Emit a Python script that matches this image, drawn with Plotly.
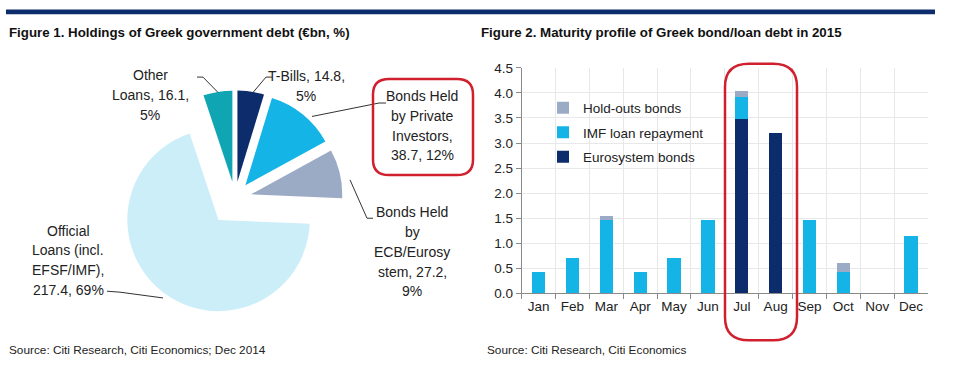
import plotly.graph_objects as go

W, H = 964, 377

# ---------------- data ----------------
pie_labels = ["T-Bills", "Bonds Held by Private Investors", "Bonds Held by ECB/Eurosystem",
              "Official Loans (incl. EFSF/IMF)", "Other Loans"]
pie_values = [14.8, 38.7, 27.2, 217.4, 16.1]
pie_colors = ["#0C2C6B", "#14B4E6", "#9BABC6", "#CBEEF8", "#0FA5B3"]
pie_pull = [0.18, 0.18, 0.18, 0.30, 0.18]

months = ["Jan", "Feb", "Mar", "Apr", "May", "Jun", "Jul", "Aug", "Sep", "Oct", "Nov", "Dec"]
eurosystem = [0, 0, 0, 0, 0, 0, 3.48, 3.19, 0, 0, 0, 0]
imf = [0.42, 0.71, 1.47, 0.42, 0.71, 1.47, 0.44, 0, 1.47, 0.42, 0, 1.15]
holdouts = [0, 0, 0.08, 0, 0, 0, 0.11, 0, 0, 0.19, 0, 0]

yticks = [0, 0.5, 1.0, 1.5, 2.0, 2.5, 3.0, 3.5, 4.0, 4.5]

# ---------------- helpers ----------------
def X(px):
    return px / W

def Y(py):
    return 1 - py / H

SANS = "Liberation Sans, Arial, sans-serif"

fig = go.Figure()

# pie
fig.add_trace(go.Pie(
    labels=pie_labels, values=pie_values, sort=False, direction="clockwise", rotation=0,
    marker=dict(colors=pie_colors, line=dict(width=0)), pull=pie_pull,
    textinfo="none", hoverinfo="label+value+percent", showlegend=False,
    domain=dict(x=[X(111.5), X(358.5)], y=[Y(322.5), Y(75.5)]),
))

# bars
fig.add_trace(go.Bar(x=months, y=eurosystem, name="Eurosystem bonds",
                     marker=dict(color="#0C2C6B", line=dict(width=0)), legendgroup="a", legendrank=3))
fig.add_trace(go.Bar(x=months, y=imf, name="IMF loan repayment",
                     marker=dict(color="#14B4E6", line=dict(width=0)), legendgroup="b", legendrank=2))
fig.add_trace(go.Bar(x=months, y=holdouts, name="Hold-outs bonds",
                     marker=dict(color="#9BABC6", line=dict(width=0)), legendgroup="c", legendrank=1))

fig.update_layout(
    width=W, height=H, autosize=False, margin=dict(l=0, r=0, t=0, b=0),
    paper_bgcolor="white", plot_bgcolor="white",
    barmode="stack", bargap=0.61,
    font=dict(family=SANS, size=14, color="#222222"),
    xaxis=dict(domain=[X(521.7), X(928)], type="category", tickson="boundaries",
               showgrid=True, gridcolor="#E8E8E8", gridwidth=1,
               showline=True, linecolor="#8A8A8A", linewidth=1,
               ticks="outside", ticklen=5, tickcolor="#8A8A8A", tickangle=0,
               tickfont=dict(size=13.5, color="#222222"), fixedrange=True),
    yaxis=dict(domain=[Y(298.3), Y(63.3)], range=[0, 4.5], tickvals=yticks, tickformat=".1f",
               showgrid=True, gridcolor="#E8E8E8", gridwidth=1, zeroline=False,
               showline=True, linecolor="#8A8A8A", linewidth=1,
               ticks="outside", ticklen=5, tickcolor="#8A8A8A",
               tickfont=dict(size=13.5, color="#222222"), fixedrange=True),
    legend=dict(x=X(543), y=Y(89), xanchor="left", yanchor="top",
                traceorder="grouped", tracegroupgap=4,
                bgcolor="rgba(0,0,0,0)", font=dict(size=13.5, color="#222222"),
                itemwidth=30),
)

shapes = []
# top navy rule
shapes.append(dict(type="rect", xref="paper", yref="paper", x0=X(6), x1=X(935), y0=Y(7.5), y1=Y(2.5),
                   fillcolor="#0C2C6B", line=dict(width=0)))

def lines_path(pts):
    return "M " + " L ".join(f"{X(a):.5f},{Y(b):.5f}" for a, b in pts)

for pts in [
    [(197, 73), (203, 73), (218, 89)],
    [(272, 73), (266, 73), (253, 89)],
    [(386, 100), (379, 100), (312, 114)],
    [(350, 180), (367, 220), (373, 220)],
    [(107, 296), (120, 297), (163, 303)],
]:
    shapes.append(dict(type="path", xref="paper", yref="paper", path=lines_path(pts),
                       line=dict(color="#333333", width=1)))

def rounded(x0, y0, x1, y1, r):
    rx, ry = r, r
    p = (f"M {X(x0+rx)},{Y(y0)} L {X(x1-rx)},{Y(y0)} Q {X(x1)},{Y(y0)} {X(x1)},{Y(y0+ry)} "
         f"L {X(x1)},{Y(y1-ry)} Q {X(x1)},{Y(y1)} {X(x1-rx)},{Y(y1)} "
         f"L {X(x0+rx)},{Y(y1)} Q {X(x0)},{Y(y1)} {X(x0)},{Y(y1-ry)} "
         f"L {X(x0)},{Y(y0+ry)} Q {X(x0)},{Y(y0)} {X(x0+rx)},{Y(y0)} Z")
    return p

shapes.append(dict(type="path", xref="paper", yref="paper", path=rounded(373, 75, 473, 175, 16),
                   line=dict(color="#D0202E", width=2.5)))
shapes.append(dict(type="path", xref="paper", yref="paper", path=rounded(725, 59, 797, 347, 24),
                   line=dict(color="#D0202E", width=2.5)))
fig.update_layout(shapes=shapes)

ann = []
def label(lines, cx, y0, step=20.5, size=14):
    for i, t in enumerate(lines):
        ann.append(dict(text=t, x=X(cx), y=Y(y0 + i * step), xref="paper", yref="paper",
                        xanchor="center", yanchor="middle", showarrow=False,
                        font=dict(family=SANS, size=size, color="#222222")))

label(["Other", "Loans, 16.1,", "5%"], 150, 71)
label(["T-Bills, 14.8,", "5%"], 306, 72)
label(["Bonds Held", "by Private", "Investors,", "38.7, 12%"], 422, 93)
label(["Bonds Held", "by", "ECB/Eurosy", "stem, 27.2,", "9%"], 412, 214)
label(["Official", "Loans (incl.", "EFSF/IMF),", "217.4, 69%"], 68, 233)

ann.append(dict(text="<b>Figure 1. Holdings of Greek government debt (€bn, %)</b>", x=X(7), y=Y(27),
                xref="paper", yref="paper", xanchor="left", yanchor="middle", showarrow=False,
                font=dict(family=SANS, size=13.3, color="#111111")))
ann.append(dict(text="<b>Figure 2. Maturity profile of Greek bond/loan debt in 2015</b>", x=X(479), y=Y(27),
                xref="paper", yref="paper", xanchor="left", yanchor="middle", showarrow=False,
                font=dict(family=SANS, size=13.3, color="#111111")))
ann.append(dict(text="Source: Citi Research, Citi Economics; Dec 2014", x=X(7), y=Y(357),
                xref="paper", yref="paper", xanchor="left", yanchor="middle", showarrow=False,
                font=dict(family=SANS, size=11.8, color="#222222")))
ann.append(dict(text="Source: Citi Research, Citi Economics", x=X(485), y=Y(357),
                xref="paper", yref="paper", xanchor="left", yanchor="middle", showarrow=False,
                font=dict(family=SANS, size=11.8, color="#222222")))
fig.update_layout(annotations=ann)

post = "document.body.style.margin='0';document.body.style.overflow='hidden';"
fig.write_html("out.html", config={"displayModeBar": False, "responsive": False}, post_script=post)
